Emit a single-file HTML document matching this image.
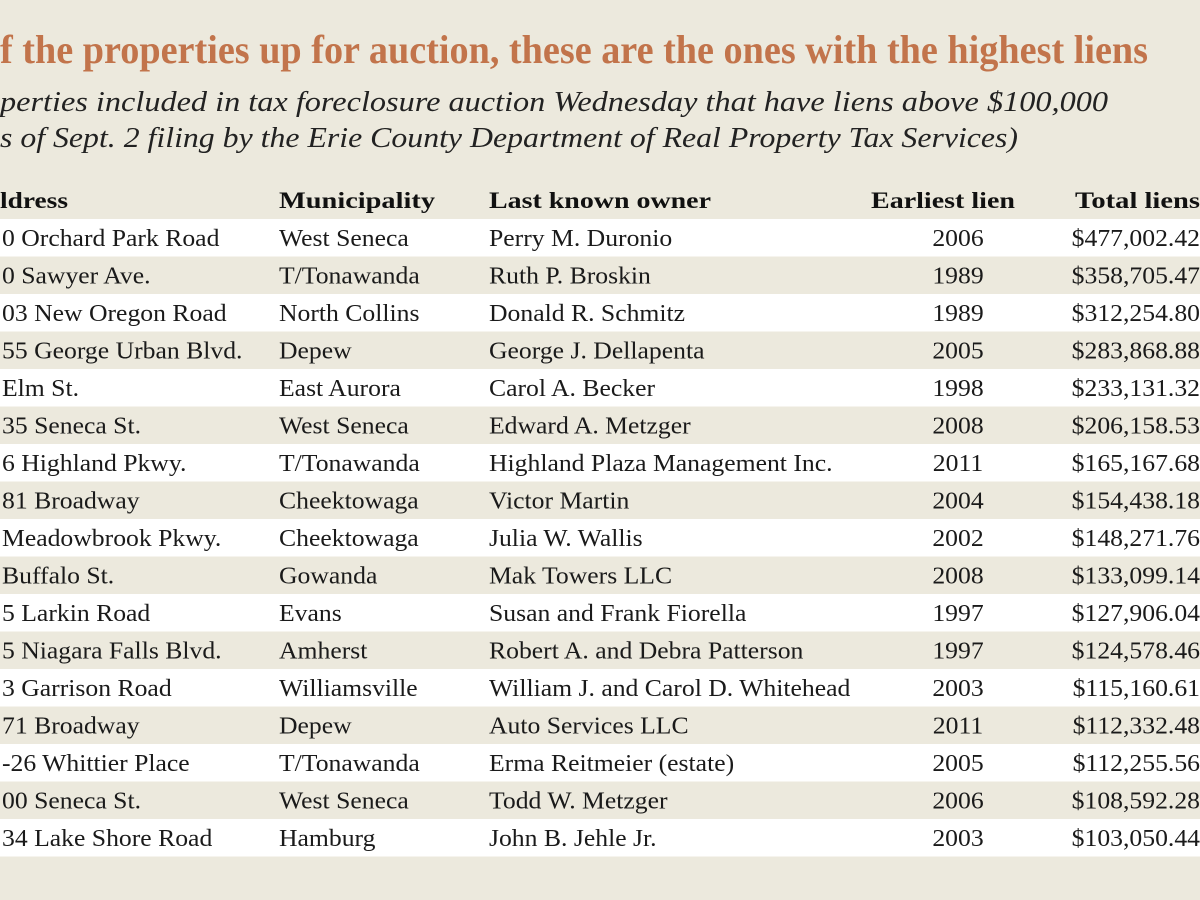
<!DOCTYPE html>
<html><head><meta charset="utf-8"><style>
html,body{margin:0;padding:0;background:#ece9dd;}
svg{display:block}
text{font-family:"Liberation Serif",serif;}
.d{font-size:24px;fill:#1a1a1a}
.h{font-size:23px;font-weight:bold;fill:#111}
</style></head><body>
<svg width="1200" height="900" viewBox="0 0 1200 900">
<rect width="1200" height="900" fill="#ece9dd"/>
<text x="0" y="63" font-size="40" font-weight="bold" fill="#c2744b" textLength="1148" lengthAdjust="spacingAndGlyphs">f the properties up for auction, these are the ones with the highest liens</text>
<text x="0" y="111" font-size="29" font-style="italic" fill="#222" textLength="1108" lengthAdjust="spacingAndGlyphs">perties included in tax foreclosure auction Wednesday that have liens above $100,000</text>
<text x="0" y="147" font-size="29" font-style="italic" fill="#222" textLength="1018" lengthAdjust="spacingAndGlyphs">s of Sept. 2 filing by the Erie County Department of Real Property Tax Services)</text>
<text x="0" y="208" class="h" textLength="68" lengthAdjust="spacingAndGlyphs">ldress</text>
<text x="279" y="208" class="h" textLength="156" lengthAdjust="spacingAndGlyphs">Municipality</text>
<text x="489" y="208" class="h" textLength="222" lengthAdjust="spacingAndGlyphs">Last known owner</text>
<text x="871" y="208" class="h" textLength="144" lengthAdjust="spacingAndGlyphs">Earliest lien</text>
<text x="1075" y="208" class="h" textLength="125" lengthAdjust="spacingAndGlyphs">Total liens</text>
<g id="rows"></g>
</svg>
<script>
const d=[
["0 Orchard Park Road","West Seneca","Perry M. Duronio","2006","$477,002.42"],
["0 Sawyer Ave.","T/Tonawanda","Ruth P. Broskin","1989","$358,705.47"],
["03 New Oregon Road","North Collins","Donald R. Schmitz","1989","$312,254.80"],
["55 George Urban Blvd.","Depew","George J. Dellapenta","2005","$283,868.88"],
[" Elm St.","East Aurora","Carol A. Becker","1998","$233,131.32"],
["35 Seneca St.","West Seneca","Edward A. Metzger","2008","$206,158.53"],
["6 Highland Pkwy.","T/Tonawanda","Highland Plaza Management Inc.","2011","$165,167.68"],
["81 Broadway","Cheektowaga","Victor Martin","2004","$154,438.18"],
[" Meadowbrook Pkwy.","Cheektowaga","Julia W. Wallis","2002","$148,271.76"],
[" Buffalo St.","Gowanda","Mak Towers LLC","2008","$133,099.14"],
["5 Larkin Road","Evans","Susan and Frank Fiorella","1997","$127,906.04"],
["5 Niagara Falls Blvd.","Amherst","Robert A. and Debra Patterson","1997","$124,578.46"],
["3 Garrison Road","Williamsville","William J. and Carol D. Whitehead","2003","$115,160.61"],
["71 Broadway","Depew","Auto Services LLC","2011","$112,332.48"],
["-26 Whittier Place","T/Tonawanda","Erma Reitmeier (estate)","2005","$112,255.56"],
["00 Seneca St.","West Seneca","Todd W. Metzger","2006","$108,592.28"],
["34 Lake Shore Road","Hamburg","John B. Jehle Jr.","2003","$103,050.44"]];
const ns="http://www.w3.org/2000/svg",g=document.getElementById("rows");
function t(x,y,s,a){const e=document.createElementNS(ns,"text");e.setAttribute("x",x);e.setAttribute("y",y);e.setAttribute("class","d");if(a)e.setAttribute("text-anchor",a);e.setAttribute("xml:space","preserve");e.setAttribute("transform",`translate(${x},0) scale(1.07,1) translate(${-x},0)`);e.textContent=s;g.appendChild(e);}
d.forEach((r,i)=>{const top=219+i*37.5;
if(i%2==0){const R=document.createElementNS(ns,"rect");R.setAttribute("x",0);R.setAttribute("y",top);R.setAttribute("width",1200);R.setAttribute("height",37.5);R.setAttribute("fill","#ffffff");g.appendChild(R);}
const y=top+27;
t(2,y,r[0]);t(279,y,r[1]);t(489,y,r[2]);t(958,y,r[3],"middle");t(1200,y,r[4],"end");});
</script>
</body></html>
